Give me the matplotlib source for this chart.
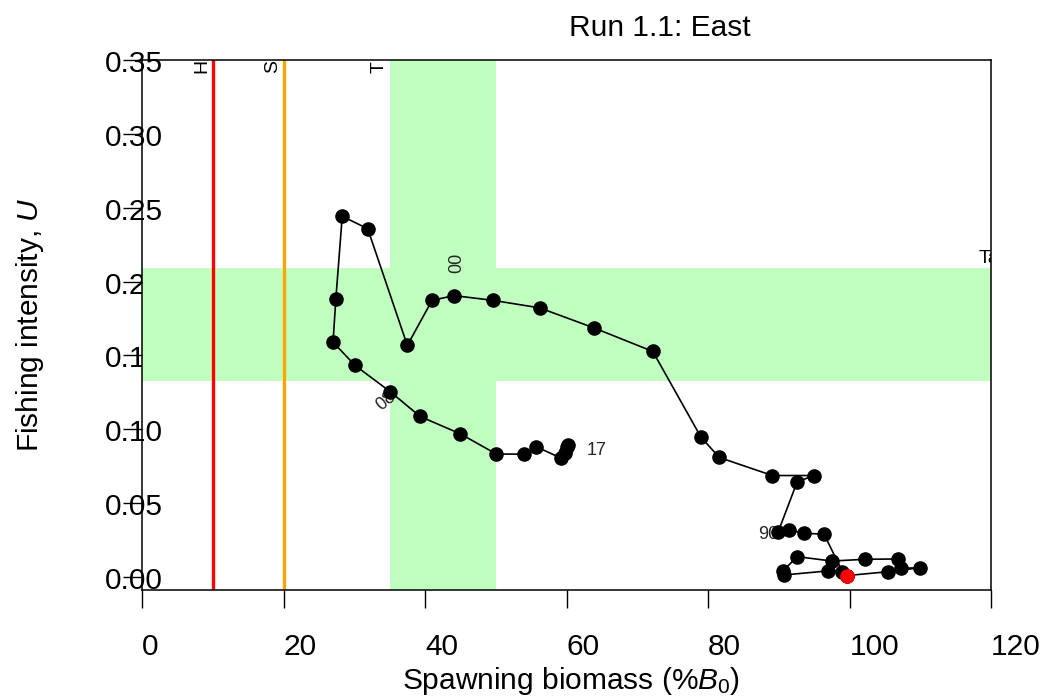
import matplotlib
matplotlib.use("Agg")
import matplotlib.pyplot as plt
import matplotlib.transforms as mtransforms

plt.rcParams["font.family"] = ["Liberation Sans", "DejaVu Sans"]
plt.rcParams["mathtext.fontset"] = "custom"
plt.rcParams["mathtext.rm"] = "Liberation Sans"
plt.rcParams["mathtext.it"] = "Liberation Sans:italic"

# Data
years = list(range(1975, 2018))
biomass = [99.7, 105.5, 110.0, 107.3, 106.9, 102.2, 97.5, 92.6, 90.6, 90.8,
           96.9, 99.0, 96.4, 93.6, 91.4,
           89.9, 92.6, 95.0, 89.1, 81.6, 79.0, 72.2, 63.9, 56.2, 49.6,
           44.1, 41.0, 37.5, 31.9, 28.3, 27.4, 27.0, 30.1, 35.1, 39.3,
           45.0, 50.1, 54.0, 55.7, 59.2, 59.8, 60.0, 60.2]
harvest = [0.001, 0.0036, 0.0063, 0.0059, 0.0122, 0.0120, 0.0108, 0.0138, 0.0041, 0.0014,
           0.0041, 0.0036, 0.029, 0.0296, 0.0319,
           0.0303, 0.0644, 0.0687, 0.0687, 0.0809, 0.0947, 0.1527, 0.1686, 0.1822, 0.1873,
           0.1905, 0.1873, 0.1568, 0.2358, 0.2442, 0.1883, 0.159, 0.1433, 0.1254, 0.1087,
           0.0969, 0.0832, 0.0832, 0.0883, 0.0805, 0.0839, 0.0877, 0.0895]

hard_limit = 10
soft_limit = 20
target_b = (35, 50)
target_u = (0.133, 0.209)

x_ticks = [0, 20, 40, 60, 80, 100, 120]
y_ticks = [0.00, 0.05, 0.10, 0.15, 0.20, 0.25, 0.30, 0.35]
y_ticklabels = ["0.00", "0.05", "0.10", "0.15", "0.20", "0.25", "0.30", "0.35"]

# year label: (year, text, rotation, ha, offset in points)
year_labels = [(1990, "90", 0, "right", (0, -1.4)),
               (2000, "00", 90, "center", (1.8, 23.4)),
               (2008, "08", 40, "center", (-3.1, -7.0)),
               (2017, "17", 0, "left", (13.7, -4.3))]

fig = plt.figure(figsize=(10.47, 6.97), dpi=100)
ax = fig.add_axes([142/1047, 1 - 590/697, (991-142)/1047, (590-60)/697])
ax.set_xlim(0, 120)
ax.set_ylim(-0.0088, 0.35)

big = 21.5

# y tick labels drawn by hand, under the green bands
off = mtransforms.ScaledTranslation(21/100, -4/100, fig.dpi_scale_trans)
for v, lab in zip(y_ticks, y_ticklabels):
    ax.text(0, v, lab, transform=ax.get_yaxis_transform() + off,
            ha="right", va="center", fontsize=big, zorder=0.5, clip_on=False)

green = "#C1FFC1"
ax.axvspan(target_b[0], target_b[1], color=green, lw=0, zorder=1)
ax.axhspan(target_u[0], target_u[1], color=green, lw=0, zorder=1)

ax.axvline(hard_limit, color="red", lw=2.4, zorder=2)
ax.axvline(soft_limit, color="orange", lw=2.4, zorder=2)

# reference line labels (only the first letters show in the original)
small = 14
ax.text(hard_limit - 0.3, 0.341, "H", rotation=90, ha="right", va="bottom",
        fontsize=small, zorder=2)
ax.text(soft_limit - 0.3, 0.341, "S", rotation=90, ha="right", va="bottom",
        fontsize=small, zorder=2)
ax.text(target_b[0] - 0.3, 0.341, "T", rotation=90, ha="right", va="bottom",
        fontsize=small, zorder=2)
ax.text(118.2, 0.2129, "Ta", ha="left", va="baseline",
        fontsize=small, clip_on=True, zorder=2)

ax.plot(biomass, harvest, "-", color="black", lw=1.2, zorder=3)
ax.plot(biomass, harvest, "o", color="black", ms=10.5, mew=0, zorder=4)
ax.plot(biomass[0], harvest[0], "o", color="red", ms=10.5, mew=0, zorder=5)

for yr, txt, rot, ha, (dx, dy) in year_labels:
    i = years.index(yr)
    ax.annotate(txt, (biomass[i], harvest[i]), xytext=(dx, dy), textcoords="offset points",
                rotation=rot, ha=ha, va="center", fontsize=13, color="0.15", zorder=3.5)

ax.set_xticks(x_ticks)
ax.set_xticklabels([str(t) for t in x_ticks], ha="left", fontsize=big)
ax.set_yticks(y_ticks)
ax.tick_params(axis="x", direction="out", length=13, width=1, pad=18)
ax.tick_params(axis="y", direction="out", length=13.7, width=1, labelleft=False)
for s in ax.spines.values():
    s.set_linewidth(1.1)
    s.set_zorder(2.5)

fig.text(571/1047, 1 - 681/697, r"Spawning biomass (%$B_0$)", ha="center", va="center", fontsize=big)
fig.text(30/1047, 1 - 325/697, r"Fishing intensity, $U$", rotation=90, ha="center", va="center",
         fontsize=big)
fig.text(660/1047, 1 - 28/697, "Run 1.1: East", ha="center", va="center", fontsize=big)

fig.savefig("out.png", dpi=100)
